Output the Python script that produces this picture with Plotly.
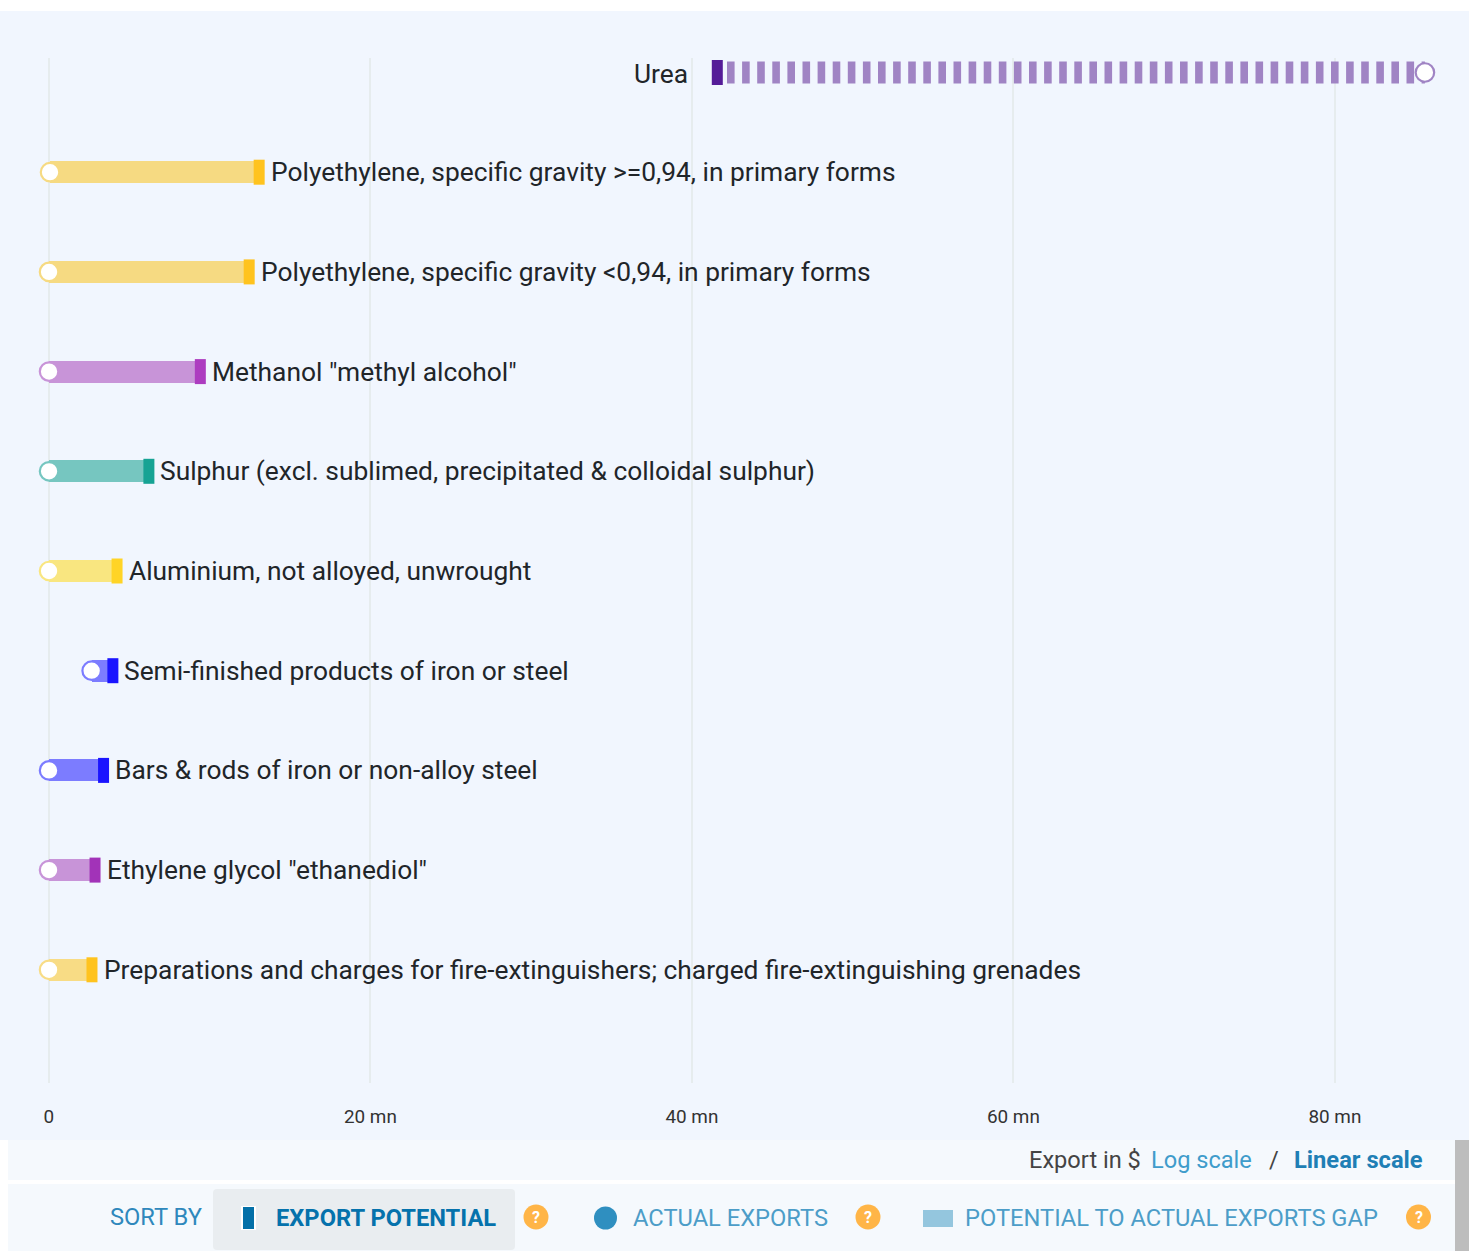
import plotly.graph_objects as go

W, H = 1469, 1251
TOP, BOTTOM = 58, 1083  # plot area in pixels

products = [
    "Urea",
    "Polyethylene, specific gravity >=0,94, in primary forms",
    "Polyethylene, specific gravity <0,94, in primary forms",
    'Methanol "methyl alcohol"',
    "Sulphur (excl. sublimed, precipitated & colloidal sulphur)",
    "Aluminium, not alloyed, unwrought",
    "Semi-finished products of iron or steel",
    "Bars & rods of iron or non-alloy steel",
    'Ethylene glycol "ethanediol"',
    "Preparations and charges for fire-extinguishers; charged fire-extinguishing grenades",
]
export_potential = [41.58, 13.08, 12.46, 9.42, 6.22, 4.24, 3.98, 3.40, 2.87, 2.68]
actual_exports = [85.6, 0.07, 0.01, 0.01, 0.01, 0.01, 2.66, 0.01, 0.01, 0.01]
dark_colors = ["#551C98", "#FFC31E", "#FFC31E", "#AD3CC0", "#16A394", "#FFD426",
               "#1A14FF", "#1A14FF", "#A233B8", "#FFC31E"]
light_colors = ["#A084C4", "#F6DA82", "#F6DA82", "#C894D8", "#76C6C0", "#F9E680",
                "#7C7CFF", "#7C7CFF", "#C894D8", "#F8DC85"]
tick_vals = [0, 20, 40, 60, 80]
tick_text = ["0", "20 mn", "40 mn", "60 mn", "80 mn"]

PX_PER_MN = 16.075
X0 = 48.9
ROW = 99.7
FIRST_ROW = 72.5
BG = "#F1F6FE"
FONT = "Roboto"

fig = go.Figure()

for i, p in enumerate(products):
    a, b = actual_exports[i], export_potential[i]
    if a > b:  # actual above potential: dashed link
        fig.add_trace(go.Scatter(
            x=[b, a], y=[p, p], mode="lines",
            line=dict(color=light_colors[i], width=22, dash="2.2px,7.5px,5.4px,0px"),
            hoverinfo="skip", showlegend=False))
    else:
        fig.add_trace(go.Bar(
            y=[p], x=[b - a], base=[a], orientation="h", width=0.22,
            marker=dict(color=light_colors[i], line=dict(width=0)),
            hoverinfo="skip", showlegend=False))
    # export potential marker: short thick line, 11 px wide and 25 px tall
    w = 11 / PX_PER_MN
    fig.add_trace(go.Scatter(
        x=[b - w / 2, b + w / 2], y=[p, p], mode="lines",
        line=dict(color=dark_colors[i], width=25),
        hoverinfo="skip", showlegend=False))
    # actual exports marker
    fig.add_trace(go.Scatter(
        x=[a], y=[p], mode="markers",
        marker=dict(size=18.5, color="white", line=dict(color=light_colors[i], width=2.2)),
        hoverinfo="skip", showlegend=False))
    left = a > b
    fig.add_annotation(
        x=b, y=p, xref="x", yref="y", text=p, showarrow=False,
        xanchor="right" if left else "left", xshift=-27 if left else 9.6,
        yshift=-1.5 if left else 0, font=dict(family=FONT, size=26.35, color="#212529"))


def py(v):
    return (BOTTOM - v) / (BOTTOM - TOP)


def px(v):
    return v / W


def rect(x0, y0, x1, y1, color, layer="below"):
    fig.add_shape(type="rect", xref="paper", yref="paper",
                  x0=px(x0), x1=px(x1), y0=py(y0), y1=py(y1),
                  fillcolor=color, line=dict(width=0), layer=layer)


def circle(cx, cy, r, color):
    fig.add_shape(type="circle", xref="paper", yref="paper",
                  x0=px(cx - r), x1=px(cx + r), y0=py(cy - r), y1=py(cy + r),
                  fillcolor=color, line=dict(width=0), layer="above")


def label(cx, cy, text, size, color, bold=False, anchor="left"):
    t = f"<b>{text}</b>" if bold else text
    fig.add_annotation(x=px(cx), y=py(cy), xref="paper", yref="paper", text=t,
                       showarrow=False, xanchor=anchor, yanchor="middle",
                       borderpad=0, font=dict(family=FONT, size=size, color=color))


# page strip, panels and scrollbar
rect(0, 0, W, 11, "#FFFFFF")
rect(0, 1140, W, H, "#FFFFFF")
rect(8, 1140, 1455, 1180, "#F5F9FD")
rect(8, 1184, 1455, H, "#F5F9FD")
rect(1455, 1140, W, H, "#BDBDBD")

# active sort button
xa, xb, ya, yb, r = px(213), px(515), py(1189), py(1250), 4
rx, ry = r / W, r / (BOTTOM - TOP)
fig.add_shape(type="path", xref="paper", yref="paper", layer="above",
              path=f"M{xa+rx},{ya} L{xb-rx},{ya} Q{xb},{ya} {xb},{ya-ry} L{xb},{yb+ry} "
                   f"Q{xb},{yb} {xb-rx},{yb} L{xa+rx},{yb} Q{xa},{yb} {xa},{yb+ry} "
                   f"L{xa},{ya-ry} Q{xa},{ya} {xa+rx},{ya} Z",
              fillcolor="#E9EDF0", line=dict(width=0))
rect(241, 1206, 256, 1230, "#FFFFFF", "above")
rect(243, 1207, 254, 1229, "#0470A8", "above")
rect(923, 1210, 953, 1227, "#94C6DE", "above")
circle(605.5, 1218, 11.5, "#2F8FC0")
for cx in (536, 868, 1418.5):
    circle(cx, 1217, 12.5, "#FFB547")
    label(cx, 1217, "<b>?</b>", 16, "#FFFFFF", anchor="center")

label(109, 1217, "SORT BY", 23.7, "#2F88BC")
label(275, 1218, "EXPORT POTENTIAL", 23.7, "#0572AC", bold=True)
label(632, 1218, "ACTUAL EXPORTS", 23.7, "#4C9DC8")
label(964, 1218, "POTENTIAL TO ACTUAL EXPORTS GAP", 23.7, "#4C9DC8")
label(1028, 1160, "Export in $", 23.6, "#444444")
label(1150, 1160, "Log scale", 23.6, "#3F9CCB")
label(1268, 1160, "/", 23.6, "#444444")
label(1293, 1160, "Linear scale", 23.7, "#1F7FB5", bold=True)

fig.update_layout(
    width=W, height=H, autosize=False,
    margin=dict(l=0, r=0, t=TOP, b=H - BOTTOM, pad=0),
    paper_bgcolor=BG, plot_bgcolor="rgba(0,0,0,0)",
    barmode="overlay", showlegend=False, bargap=0,
    font=dict(family=FONT),
    xaxis=dict(range=[-X0 / PX_PER_MN, (W - X0) / PX_PER_MN],
               tickvals=tick_vals, ticktext=tick_text,
               showgrid=True, gridcolor="#E6ECEE", gridwidth=1.5, zeroline=False,
               showline=False, ticks="", ticklabelstandoff=20,
               tickfont=dict(family=FONT, size=18.9, color="#333333")),
    yaxis=dict(type="category", categoryorder="array", categoryarray=products,
               range=[(BOTTOM - FIRST_ROW) / ROW, -(FIRST_ROW - TOP) / ROW],
               showticklabels=False, showgrid=False, zeroline=False, showline=False, ticks=""),
)

fig.write_html("out.html", config={"displayModeBar": False},
               post_script="document.body.style.margin='0';document.body.style.overflow='hidden';")
